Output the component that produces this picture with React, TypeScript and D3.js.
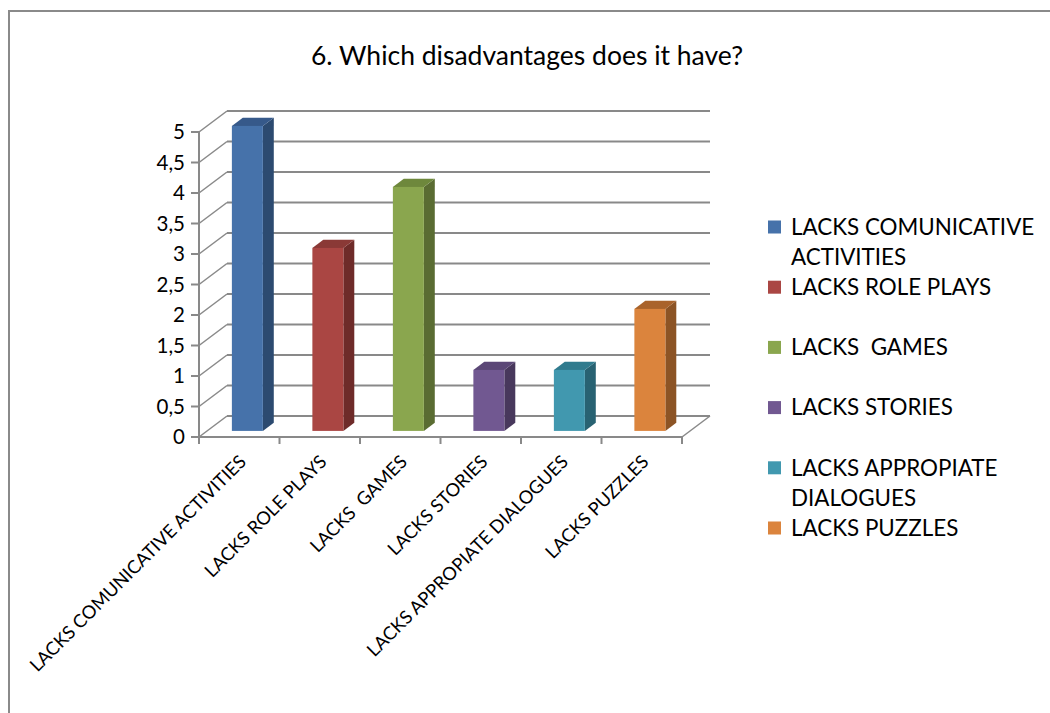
import React from "react";
import * as d3 from "d3";

// Survey answers: how many respondents picked each disadvantage
const categories = [
  "LACKS COMUNICATIVE ACTIVITIES",
  "LACKS ROLE PLAYS",
  "LACKS  GAMES",
  "LACKS STORIES",
  "LACKS APPROPIATE DIALOGUES",
  "LACKS PUZZLES",
];
const values = [5, 3, 4, 1, 1, 2];
const yTicks = [0, 0.5, 1, 1.5, 2, 2.5, 3, 3.5, 4, 4.5, 5];

// Face shades per bar: front, side, top
const frontColors = ["#4672AA", "#AA4643", "#8AA64E", "#715891", "#4198AF", "#DB843D"];
const sideColors = ["#2C4A70", "#6E2B29", "#5A6C32", "#48385C", "#286272", "#8C5425"];
const topColors = ["#36598A", "#8A3936", "#6E883C", "#5B4776", "#307B8E", "#A9632B"];

const FONT = "Lato, 'Open Sans', sans-serif";

// Plot geometry (front plane of the 3-D box and its depth offset)
const X0 = 199;
const X1 = 682;
const Y0 = 437;
const Y5 = 132;
const DEPTH_X = 28;
const DEPTH_Y = -21;
const BAR_FRONT = 0.29; // fraction of depth where bar front face sits
const BAR_BACK = 0.68;

function wrap(text: string, maxChars: number): string[] {
  const words = text.split(" ");
  const lines: string[] = [];
  let cur = "";
  words.forEach((w, i) => {
    const next = i === 0 ? w : cur + " " + w;
    if (next.length > maxChars && cur.trim().length > 0) {
      lines.push(cur);
      cur = w;
    } else {
      cur = next;
    }
  });
  lines.push(cur);
  return lines;
}

export default function App() {
  const width = 1050;
  const height = 713;

  const x = d3
    .scaleBand<string>()
    .domain(categories)
    .range([X0, X1])
    .paddingInner(0.615)
    .paddingOuter(0.3075);
  const y = d3.scaleLinear().domain([0, 5]).range([Y0, Y5]);

  const step = (X1 - X0) / categories.length;
  const tickXs = d3.range(categories.length + 1).map((i) => X0 + i * step);

  const gridColor = "#898989";

  const fx = BAR_FRONT * DEPTH_X;
  const fy = BAR_FRONT * DEPTH_Y;
  const bx = BAR_BACK * DEPTH_X;
  const by = BAR_BACK * DEPTH_Y;

  // Legend layout
  const legendX = 768;
  const legendItemGap = 60.2;
  const legendLineGap = 30;
  const legendTop = 227;

  return (
    <svg
      width={width}
      height={height}
      style={{ position: "absolute", left: 0, top: 0, background: "#fff" }}
    >
      {/* chart frame */}
      <rect x={9} y={11} width={1100} height={800} fill="#fff" stroke="#8a8a8a" strokeWidth={2} />

      {/* title */}
      <text x={527} y={65} textAnchor="middle" fontFamily={FONT} fontSize={26.5} fill="#000">
        6. Which disadvantages does it have?
      </text>

      {/* back wall gridlines and side wall diagonals */}
      {yTicks.map((t) => {
        const yf = y(t);
        const yb = yf + DEPTH_Y;
        return (
          <g key={"g" + t}>
            <line x1={X0 + DEPTH_X} x2={X1 + DEPTH_X} y1={yb} y2={yb} stroke={gridColor} strokeWidth={2} />
            <line x1={X0} y1={yf} x2={X0 + DEPTH_X} y2={yb} stroke={gridColor} strokeWidth={1.5} />
            <line x1={X0 - 8} x2={X0} y1={yf} y2={yf} stroke={gridColor} strokeWidth={2} />
          </g>
        );
      })}

      {/* floor right edge */}
      <line x1={X1} y1={Y0} x2={X1 + DEPTH_X} y2={Y0 + DEPTH_Y} stroke={gridColor} strokeWidth={1.5} />

      {/* vertical value axis */}
      <line x1={X0} x2={X0} y1={Y5} y2={Y0} stroke={gridColor} strokeWidth={2} />

      {/* bars */}
      {categories.map((c, i) => {
        const left = (x(c) as number) + fx;
        const w = x.bandwidth();
        const right = left + w;
        const yBase = Y0 + fy;
        const yTop = y(values[i]) + fy;
        const ddx = bx - fx;
        const ddy = by - fy;
        const side = `M${right},${yTop} L${right + ddx},${yTop + ddy} L${right + ddx},${yBase + ddy} L${right},${yBase} Z`;
        const top = `M${left},${yTop} L${left + ddx},${yTop + ddy} L${right + ddx},${yTop + ddy} L${right},${yTop} Z`;
        return (
          <g key={c}>
            <path d={side} fill={sideColors[i]} />
            <path d={top} fill={topColors[i]} />
            <rect x={left} y={yTop} width={w} height={yBase - yTop} fill={frontColors[i]} />
          </g>
        );
      })}

      {/* category axis */}
      <line x1={X0} x2={X1} y1={Y0} y2={Y0} stroke={gridColor} strokeWidth={2} />
      {tickXs.map((tx, i) => (
        <line key={"t" + i} x1={tx} x2={tx} y1={Y0} y2={Y0 + 7} stroke={gridColor} strokeWidth={2} />
      ))}

      {/* value axis labels */}
      {yTicks.map((t) => (
        <text
          key={"yl" + t}
          x={185}
          y={y(t)}
          dy="0.35em"
          textAnchor="end"
          fontFamily={FONT}
          fontSize={20.5}
          fill="#000"
        >
          {String(t).replace(".", ",")}
        </text>
      ))}

      {/* category labels */}
      {categories.map((c) => {
        const cx = (x(c) as number) + x.bandwidth() / 2 + 8;
        const cy = 463;
        return (
          <text
            key={"xl" + c}
            x={cx}
            y={cy}
            transform={`rotate(-45 ${cx} ${cy})`}
            textAnchor="end"
            fontFamily={FONT}
            fontSize={18.3}
            fill="#000"
            style={{ whiteSpace: "pre" }}
          >
            {c}
          </text>
        );
      })}

      {/* legend */}
      {categories.map((c, i) => {
        const cy = legendTop + i * legendItemGap;
        const lines = wrap(c, 18);
        return (
          <g key={"lg" + c}>
            <rect x={legendX} y={cy - 6.5} width={13} height={13} fill={frontColors[i]} />
            {lines.map((ln, j) => (
              <text
                key={j}
                x={791}
                y={cy + j * legendLineGap}
                dy="0.35em"
                fontFamily={FONT}
                fontSize={22.4}
                fill="#000"
                style={{ whiteSpace: "pre" }}
              >
                {ln}
              </text>
            ))}
          </g>
        );
      })}
    </svg>
  );
}
